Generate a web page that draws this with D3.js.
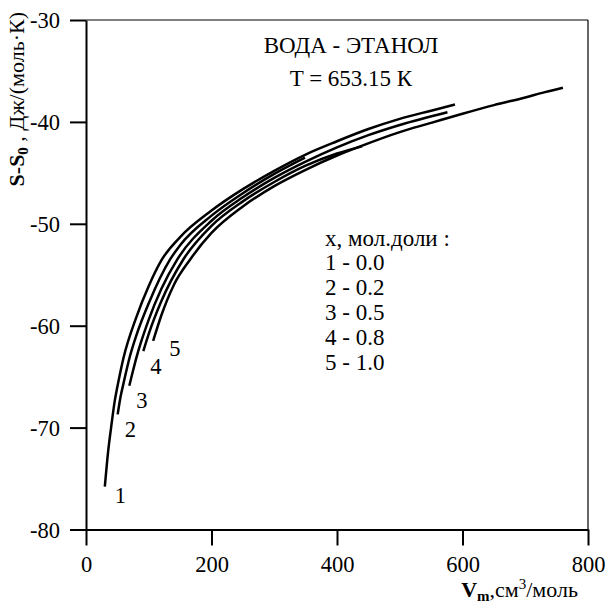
<!DOCTYPE html>
<html><head><meta charset="utf-8">
<script src="https://cdn.jsdelivr.net/npm/d3@7"></script>
<style>
body{margin:0;background:#fff;}
svg text{font-family:"Liberation Serif","Times New Roman",Times,"DejaVu Serif",serif !important;}
</style></head>
<body><svg id="c" width="608" height="607"></svg>
<script>
// Data
const xTicks = [0, 200, 400, 600, 800];
const yTicks = [-80, -70, -60, -50, -40, -30];
const seriesLabels = ["1", "2", "3", "4", "5"];
const legendTitle = "x, мол.доли :";
const legendItems = ["1 - 0.0", "2 - 0.2", "3 - 0.5", "4 - 0.8", "5 - 1.0"];
const titleLines = ["ВОДА - ЭТАНОЛ", "T = 653.15 К"];

const curve1V = [30, 35, 40, 46, 50, 60, 80, 100, 121, 150, 200, 250, 300, 350, 400, 450, 500, 550, 588];
const curve1S = [-75.8, -72.5, -70.0, -67.3, -66.0, -63.1, -59.2, -56.1, -53.5, -51.3, -48.7, -46.6, -44.8, -43.2, -41.9, -40.7, -39.7, -38.9, -38.3];
const curve2V = [50.5, 55, 60, 70, 80, 100, 134, 150, 200, 250, 300, 349];
const curve2S = [-68.7, -67.0, -65.6, -63.0, -61.0, -57.8, -53.5, -52.1, -49.2, -47.0, -45.1, -43.5];
const curve3V = [69, 75, 80, 100, 120, 145.5, 200, 250, 300, 350, 400, 450, 500, 576];
const curve3S = [-65.9, -64.4, -63.2, -59.4, -56.4, -53.5, -49.7, -47.4, -45.5, -43.9, -42.5, -41.3, -40.3, -39.05];
const curve4V = [91.3, 100, 120, 155, 200, 250, 300, 350, 400, 440];
const curve4S = [-62.5, -60.8, -57.6, -53.5, -50.2, -47.8, -45.9, -44.3, -43.1, -42.4];
const curve5V = [107, 120, 140, 166, 200, 250, 300, 350, 400, 437, 500, 550, 600, 650, 700, 730, 760];
const curve5S = [-61.5, -59.0, -56.0, -53.5, -50.9, -48.3, -46.3, -44.7, -43.3, -42.4, -41.0, -40.1, -39.2, -38.35, -37.6, -37.1, -36.65];

const allV = [curve1V, curve2V, curve3V, curve4V, curve5V];
const allS = [curve1S, curve2S, curve3S, curve4S, curve5S];

const svg = d3.select("#c");
const x = d3.scaleLinear().domain([0, 800]).range([86, 588]);
const y = d3.scaleLinear().domain([-80, -30]).range([529.5, 20]);
const fmt = d => String(d).replace("\u2212", "-");

// frame (top and right)
svg.append("line").attr("x1", x(0)).attr("x2", x(800)).attr("y1", y(-30)).attr("y2", y(-30)).attr("stroke", "#000").attr("stroke-width", 1.2);
svg.append("line").attr("x1", x(800)).attr("x2", x(800)).attr("y1", y(-30)).attr("y2", y(-80)).attr("stroke", "#000").attr("stroke-width", 1.2);

const gx = svg.append("g").attr("transform", `translate(0,${y(-80)})`)
  .call(d3.axisBottom(x).tickValues(xTicks).tickSize(16).tickSizeOuter(0).tickPadding(8).tickFormat(fmt));
const gy = svg.append("g").attr("transform", `translate(${x(0)},0)`)
  .call(d3.axisLeft(y).tickValues(yTicks).tickSize(16).tickSizeOuter(0).tickPadding(10).tickFormat(fmt));
[gx, gy].forEach(g => {
  g.attr("font-family", null).attr("font-size", null);
  g.select(".domain").attr("stroke", "#000").attr("stroke-width", 2);
  g.selectAll(".tick line").attr("stroke", "#000").attr("stroke-width", 2);
  g.selectAll(".tick text").attr("fill", "#000").attr("font-size", 22.5);
});
gx.selectAll(".tick text").attr("dy", null).attr("y", 42.5);
gy.selectAll(".tick text").attr("dy", "0.34em");

// curves
const line = d3.line().x(d => x(d[0])).y(d => y(d[1])).curve(d3.curveMonotoneX);
allV.forEach((vs, i) => {
  const pts = vs.map((v, j) => [v, allS[i][j]]);
  svg.append("path").attr("d", line(pts)).attr("fill", "none").attr("stroke", "#000").attr("stroke-width", 2.5);
});

// curve number labels (placed next to the start of each curve)
const labOff = [[10, 9], [7, 16], [7, 15], [7, 16], [16, 8]];
allV.forEach((vs, i) => {
  svg.append("text").attr("x", x(vs[0]) + labOff[i][0]).attr("y", y(allS[i][0]) + labOff[i][1] + 7)
    .attr("font-size", 22.5).attr("fill", "#000").text(seriesLabels[i]);
});

// title
titleLines.forEach((t, i) => {
  svg.append("text").attr("x", 351).attr("y", 53 + i * 33).attr("text-anchor", "middle")
    .attr("font-size", 23).attr("fill", "#000").text(t);
});

// legend
svg.append("text").attr("x", 325).attr("y", 246).attr("font-size", 23).attr("fill", "#000").text(legendTitle);
legendItems.forEach((t, i) => {
  svg.append("text").attr("x", 325).attr("y", 270 + i * 25).attr("font-size", 23).attr("fill", "#000").text(t);
});

// x axis label
const xl = svg.append("text").attr("x", 578).attr("y", 597).attr("text-anchor", "end").attr("font-size", 22).attr("fill", "#000");
xl.append("tspan").attr("font-weight", "bold").text("V");
xl.append("tspan").attr("font-weight", "bold").attr("font-size", 15).attr("dy", 4).text("m");
xl.append("tspan").attr("dy", -4).text(",см");
xl.append("tspan").attr("font-size", 15).attr("dy", -8).text("3");
xl.append("tspan").attr("dy", 8).text("/моль");

// y axis label
const yl = svg.append("text").attr("transform", "translate(24,12) rotate(-90)").attr("text-anchor", "end").attr("font-size", 22).attr("fill", "#000");
yl.append("tspan").attr("font-weight", "bold").text("S-S");
yl.append("tspan").attr("font-weight", "bold").attr("font-size", 15).attr("dy", 4).text("0");
yl.append("tspan").attr("dy", -4).text(" , Дж/(моль·К)");
</script></body></html>
